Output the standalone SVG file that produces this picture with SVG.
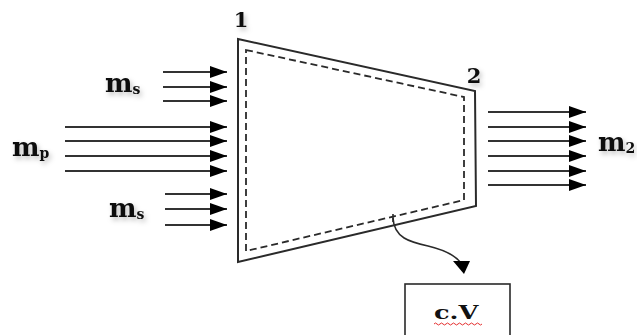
<svg xmlns="http://www.w3.org/2000/svg" width="637" height="335" viewBox="0 0 637 335">
  <style>
    .frame { fill: none; stroke: #2a2a2a; stroke-width: 2; stroke-linejoin: miter; }
    .dash { fill: none; stroke: #2a2a2a; stroke-width: 1.8; stroke-dasharray: 7 4; }
    .flow { stroke: #333; stroke-width: 2; fill: none; marker-end: url(#ah); }
    .lbl { font-family: "DejaVu Serif", "Liberation Serif", serif; font-weight: bold; fill: #111; }
    .num { font-family: "DejaVu Serif", "Liberation Serif", serif; font-weight: bold; font-size: 21px; fill: #111; text-anchor: middle; }
  </style>
  <defs>
    <marker id="ah" markerUnits="userSpaceOnUse" markerWidth="17" markerHeight="12" refX="17" refY="6" orient="auto">
      <path d="M0,0 L17,6 L0,12 z" fill="#000"/>
    </marker>
    <filter id="sh" x="-20%" y="-20%" width="150%" height="170%">
      <feDropShadow dx="2" dy="3" stdDeviation="2.5" flood-color="#000" flood-opacity="0.25"/>
    </filter>
  </defs>
  <rect width="637" height="335" fill="#fff"/>

  <g id="control-volume">
    <polygon class="frame" points="238,39 475,91 476,206 238,262"/>
    <polygon class="dash" points="246,50 464,97 464,200 246,251"/>
    <text class="num" x="241" y="27" filter="url(#sh)">1</text>
    <text class="num" x="474" y="83" filter="url(#sh)">2</text>
  </g>

  <g id="label-ms-top">
    <text class="lbl" x="105" y="92" font-size="26" filter="url(#sh)">m<tspan font-size="14" dy="2">s</tspan></text>
  </g>
  <g id="label-mp">
    <text class="lbl" x="12" y="156" font-size="26" filter="url(#sh)">m<tspan font-size="14" dy="2">p</tspan></text>
  </g>
  <g id="label-ms-bottom">
    <text class="lbl" x="109" y="217" font-size="26" filter="url(#sh)">m<tspan font-size="14" dy="2">s</tspan></text>
  </g>
  <g id="label-m2">
    <text class="lbl" x="598" y="151" font-size="26" filter="url(#sh)">m<tspan font-size="14" dy="2">2</tspan></text>
  </g>

  <g id="cv-box">
    <rect x="405" y="284" width="105" height="70" fill="#fff" stroke="#2a2a2a" stroke-width="1.6"/>
    <text transform="translate(434,319) scale(1.35,1)" x="0" y="0" font-family="DejaVu Serif, Liberation Serif, serif" font-weight="bold" font-size="19" fill="#111">c.V</text>
    <path d="M434,324 q1.5,-2 3,0 t3,0 t3,0 t3,0 t3,0 t3,0 t3,0 t3,0 t3,0 t3,0 t3,0 t3,0 t3,0 t3,0 t3,0 t3,0" fill="none" stroke="#e53030" stroke-width="1"/>
  </g>

  <g id="connectors">
    <line class="flow" x1="163" y1="72" x2="227" y2="72"/>
    <line class="flow" x1="163" y1="87" x2="227" y2="87"/>
    <line class="flow" x1="163" y1="101" x2="227" y2="101"/>

    <line class="flow" x1="65" y1="127" x2="227" y2="127"/>
    <line class="flow" x1="65" y1="141" x2="227" y2="141"/>
    <line class="flow" x1="65" y1="156" x2="227" y2="156"/>
    <line class="flow" x1="65" y1="171" x2="227" y2="171"/>

    <line class="flow" x1="165" y1="194" x2="227" y2="194"/>
    <line class="flow" x1="165" y1="209" x2="227" y2="209"/>
    <line class="flow" x1="165" y1="225" x2="227" y2="225"/>

    <line class="flow" x1="488" y1="112" x2="586" y2="112"/>
    <line class="flow" x1="488" y1="127" x2="586" y2="127"/>
    <line class="flow" x1="488" y1="141" x2="586" y2="141"/>
    <line class="flow" x1="488" y1="156" x2="586" y2="156"/>
    <line class="flow" x1="488" y1="171" x2="586" y2="171"/>
    <line class="flow" x1="488" y1="185" x2="586" y2="185"/>

    <line x1="393" y1="214" x2="393" y2="222" stroke="#2a2a2a" stroke-width="1.6"/>
    <path d="M393,218 C394,238 410,242 428,246 C445,250 455,255 461,263" fill="none" stroke="#2a2a2a" stroke-width="1.6"/>
    <polygon points="453,261 470,261 464,274" fill="#000"/>
  </g>
</svg>
